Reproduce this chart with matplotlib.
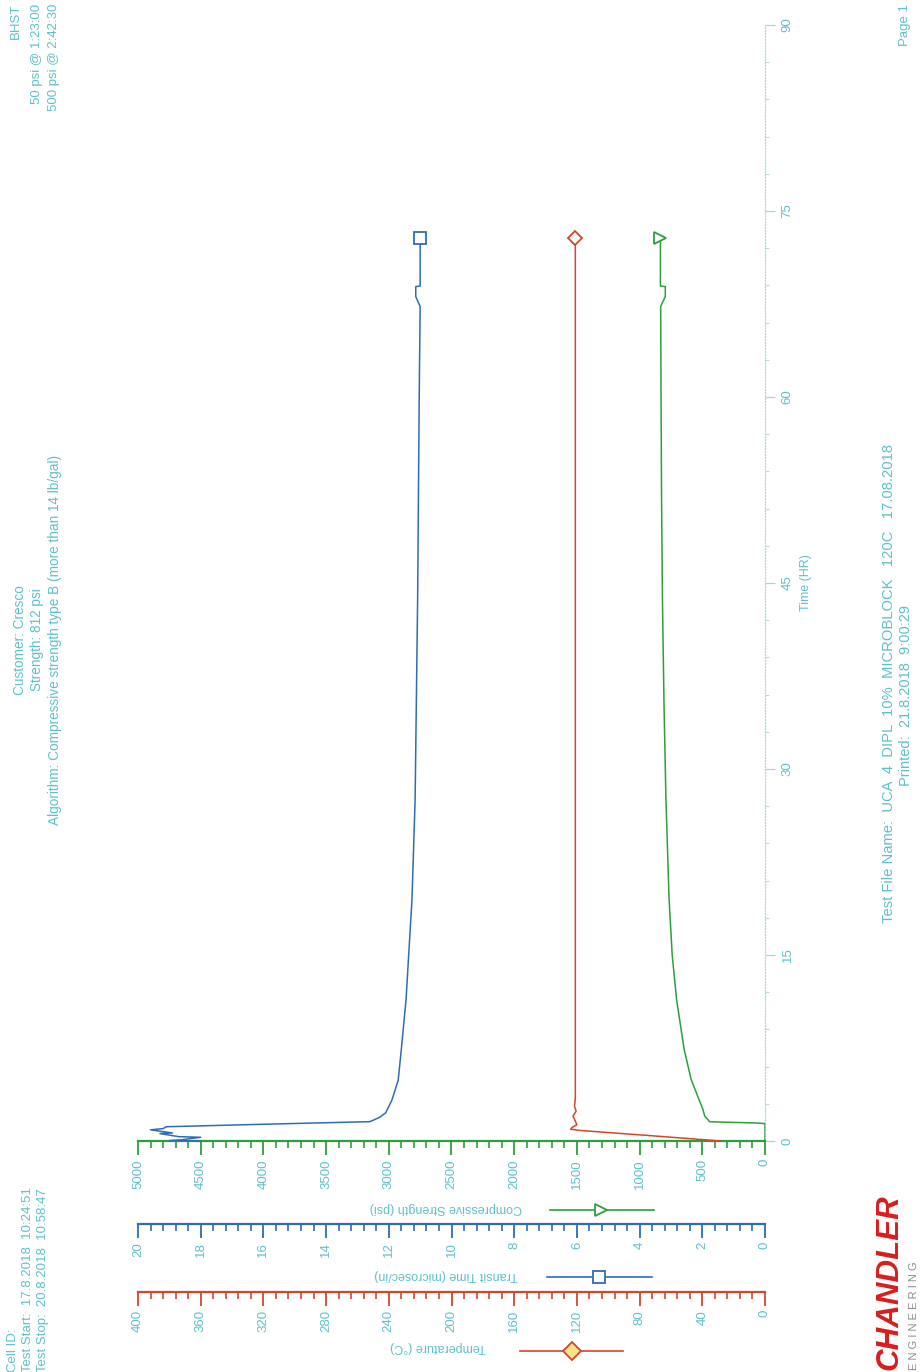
import matplotlib
matplotlib.use("Agg")
import matplotlib.pyplot as plt
from matplotlib.ticker import MultipleLocator
from matplotlib.lines import Line2D

# UCA report, scanned sideways: time runs up the page, the three value axes run right-to-left
W, H = 924, 1372
TEAL = "#5EC0C9"; AXCYAN = "#9ED8DD"
GREEN = "#2E9E3C"; BLUE = "#2F6DB2"; RED = "#D2472B"
plt.rcParams["font.family"] = ["Liberation Sans", "DejaVu Sans"]

# compressive strength (psi)
t_str = [0, 1.40, 1.45, 1.55, 2.0, 2.7, 3.3, 5.0, 7.4, 11.4, 15.0, 19.5, 27.6, 35.0,
         43.8, 52.0, 60.0, 67.3, 68.1, 68.9, 68.95, 72.8]
strength = [0, 0, 60, 440, 480, 500, 525, 590, 645, 705, 740, 765, 790, 805,
            818, 825, 829, 832, 795, 795, 834, 834]
# transit time (microsec/in)
t_tt = [0, 0.03, 0.1, 0.3, 0.35, 0.6, 0.65, 0.9, 1.0, 1.15, 1.35, 1.56, 1.9, 2.27, 3.3,
        4.9, 7.4, 11.4, 19.5, 27.6, 43.8, 60.0, 67.3, 68.1, 68.9, 68.95, 72.8]
transit = [18.0, 19.0, 18.6, 18.0, 18.7, 19.3, 18.9, 19.6, 19.2, 19.1, 16.0, 12.6, 12.3, 12.1, 11.9,
           11.7, 11.6, 11.45, 11.26, 11.16, 11.08, 11.03, 11.0, 11.14, 11.14, 11.0, 11.0]
# temperature (°C)
t_temp = [0, 0.45, 0.85, 0.95, 1.1, 1.3, 1.6, 2.0, 2.4, 2.8, 3.5, 72.8]
temp = [28, 75, 118, 124, 123, 120, 121, 122.5, 120.5, 121.5, 121, 121]

def fx(x): return x / W
def fy(y): return 1 - y / H

fig = plt.figure(figsize=(W / 100, H / 100), dpi=100)
ax = fig.add_axes([fx(138), fy(1141), fx(765) - fx(138), fy(25) - fy(1141)])
ax2 = ax.twiny(); ax3 = ax.twiny()

def style_x(a, color, lim, major, minor, offset_px):
    a.set_xlim(lim, 0)
    a.xaxis.set_ticks_position("bottom")
    a.xaxis.set_major_locator(MultipleLocator(major))
    a.xaxis.set_minor_locator(MultipleLocator(minor))
    for s in ("top", "left", "right"):
        a.spines[s].set_visible(False)
    a.spines["bottom"].set_visible(True)
    a.spines["bottom"].set_color(color); a.spines["bottom"].set_linewidth(1.6)
    a.spines["bottom"].set_position(("outward", offset_px * 0.72))
    a.tick_params(axis="x", which="major", direction="out", length=10, width=1.3,
                  color=color, labelcolor=TEAL, labelsize=9.5, labelrotation=90, pad=3)
    a.tick_params(axis="x", which="minor", direction="out", length=5, width=1.2, color=color)
    a.patch.set_visible(False)

style_x(ax, GREEN, 5000, 500, 100, 0)
style_x(ax2, BLUE, 20, 2, 0.4, 83)
style_x(ax3, RED, 400, 40, 8, 151)

# time axis on the right
ax.set_ylim(0, 90)
ax.yaxis.tick_right()
ax.yaxis.set_major_locator(MultipleLocator(15))
ax.yaxis.set_minor_locator(MultipleLocator(3))
ax.spines["right"].set_visible(True)
ax.spines["right"].set_color(AXCYAN); ax.spines["right"].set_linestyle(":")
ax.tick_params(axis="y", which="major", direction="out", length=7, width=0.8,
               color=AXCYAN, labelcolor=TEAL, labelsize=9.5, pad=5)
ax.tick_params(axis="y", which="minor", direction="out", length=3, width=0.6, color=AXCYAN)
for lab in ax.get_yticklabels():
    lab.set_rotation(90); lab.set_va("center")

ax.plot(strength, t_str, color=GREEN, lw=1.1, clip_on=False)
ax.plot(strength[-1], t_str[-1], marker=">", ms=8, mfc="white", mec=GREEN, mew=1.3)
ax2.plot(transit, t_tt, color=BLUE, lw=1.1, clip_on=False)
ax2.plot(transit[-1], t_tt[-1], marker="s", ms=8, mfc="white", mec=BLUE, mew=1.3)
ax3.plot(temp, t_temp, color=RED, lw=1.1, clip_on=False)
ax3.plot(temp[-1], t_temp[-1], marker="D", ms=7, mfc="white", mec=RED, mew=1.3)
ax2.set_ylim(0, 90); ax3.set_ylim(0, 90)

# axis titles + legend keys (upside-down in this orientation)
legend = [("Compressive Strength (psi)", 446, 1208, GREEN, ">", "white", 550, 654, 601, 1210),
          ("Transit Time (microsec/in)", 446, 1275, BLUE, "s", "white", 547, 652, 599, 1277),
          ("Temperature (°C)", 438, 1347, RED, "D", "#F7E38A", 520, 623, 572, 1351)]
for txt, tx, ty, c, m, fc, x0, x1, mx, ly in legend:
    fig.text(fx(tx), fy(ty), txt, rotation=180, ha="center", va="center", color=TEAL, fontsize=9)
    fig.add_artist(Line2D([fx(x0), fx(x1)], [fy(ly), fy(ly)], color=c, lw=1.2,
                          transform=fig.transFigure))
    fig.add_artist(Line2D([fx(mx)], [fy(ly)], marker=m, ms=9, mfc=fc, mec=c, mew=1.3,
                          transform=fig.transFigure))

fig.text(fx(806), fy(583), "Time (HR)", rotation=90, ha="center", va="center", color=TEAL, fontsize=9)

# header block
for x, s in [(13, "Cell ID:"), (28, "Test Start:  17.8.2018  10:24:51"), (43, "Test Stop:  20.8.2018  10:58:47")]:
    fig.text(fx(x), fy(1372), s, rotation=90, ha="center", va="bottom", color=TEAL, fontsize=9.5)
for x, s in [(20, "Customer: Cresco"), (37, "Strength: 812 psi"),
             (55, "Algorithm: Compressive strength type B (more than 14 lb/gal)")]:
    fig.text(fx(x), fy(640), s, rotation=90, ha="center", va="center", color=TEAL, fontsize=9.8)
for x, s in [(16, "BHST"), (37, "50 psi @ 1:23:00"), (54, "500 psi @ 2:42:30")]:
    fig.text(fx(x), fy(4), s, rotation=90, ha="center", va="top", color=TEAL, fontsize=9.5)
fig.text(fx(905), fy(4), "Page 1", rotation=90, ha="center", va="top", color=TEAL, fontsize=9.5)

# footer
fig.text(fx(889), fy(684), "Test File Name:  UCA  4  DIPL  10%  MICROBLOCK   120C   17.08.2018",
         rotation=90, ha="center", va="center", color=TEAL, fontsize=10.6)
fig.text(fx(906), fy(695), "Printed:  21.8.2018  9:00:29", rotation=90, ha="center", va="center",
         color=TEAL, fontsize=10.5)

# logo
fig.text(fx(889), fy(1370), "CHANDLER", rotation=90, ha="center", va="bottom", color="#D81E1E",
         fontsize=22.5, fontweight="bold", fontstyle="italic")
fig.text(fx(914), fy(1370), "E N G I N E E R I N G", rotation=90, ha="center", va="bottom",
         color="#8A8A8A", fontsize=8)

fig.savefig("out.png", dpi=100, facecolor="white")
